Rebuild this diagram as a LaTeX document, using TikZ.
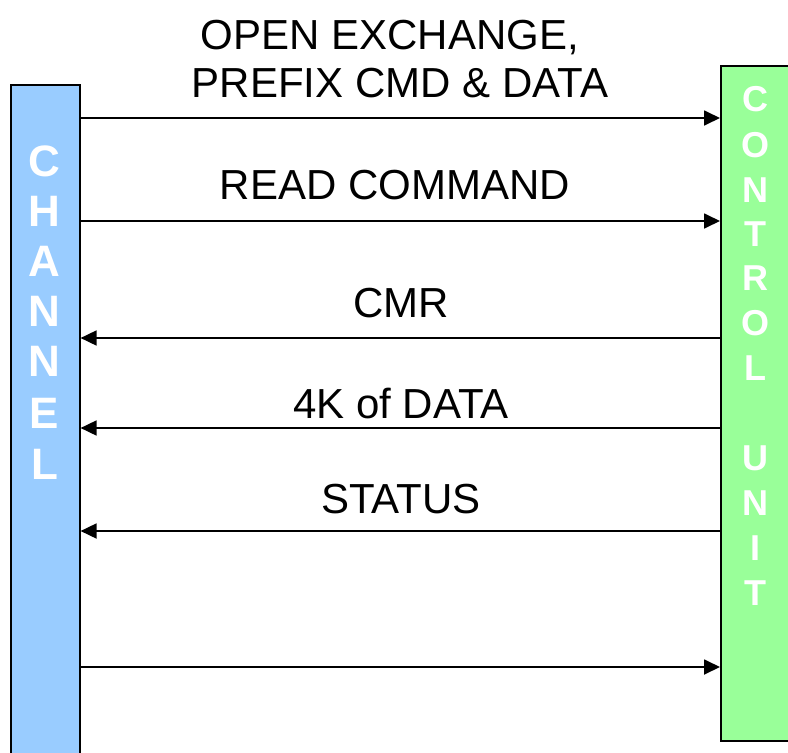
\documentclass[tikz,border=0pt]{standalone}
\usepackage{fontspec}
\setmainfont{Liberation Sans}
\usetikzlibrary{arrows.meta}
\definecolor{chblue}{HTML}{99CCFF}
\definecolor{cugreen}{HTML}{99FF99}
\begin{document}
\begin{tikzpicture}[x=1pt,y=-1pt,
  lbl/.style={anchor=base,inner sep=0pt,font=\fontsize{42}{48}\selectfont},
  arr/.style={line width=1.8pt,-{Triangle[length=16pt,width=15pt]}},
  barL/.style={draw=black,line width=1.6pt,fill=chblue},
  barR/.style={draw=black,line width=1.6pt,fill=cugreen},
  lchar/.style={anchor=base,inner sep=0pt,text=white,font=\fontsize{44}{44}\selectfont\bfseries},
  rchar/.style={anchor=base,inner sep=0pt,text=white,font=\fontsize{36}{36}\selectfont\bfseries}]
\useasboundingbox (0,0) rectangle (788,753);
\clip (0,0) rectangle (788,753);
\fill[white] (0,0) rectangle (788,753);
% bars
\node[barL,minimum width=69pt,minimum height=690pt,inner sep=0pt,anchor=north west] (ch) at (10,84) {};
\node[barR,minimum width=72pt,minimum height=675pt,inner sep=0pt,anchor=north west] (cu) at (720,65) {};
% CHANNEL letters
\foreach \c/\y [count=\i] in {C/160,H/210,A/260,N/310,N/360,E/412,L/463}
  \node[lchar] (chl\i) at (44.5,\y+16) {\c};
% CONTROL UNIT letters
\foreach \c/\y [count=\i] in {C/98.5,O/144,N/189,T/233,R/277.5,O/322,L/367,U/457,N/502,I/547,T/592}
  \node[rchar] (cul\i) at (755,\y+13) {\c};
% labels
\node[lbl] (t1a) at (390,49) {OPEN EXCHANGE,};
\node[lbl] (t1b) at (400,97) {PREFIX CMD \& DATA};
\node[lbl] (t2) at (395,199) {READ COMMAND};
\node[lbl] (t3) at (401,317) {CMR};
\node[lbl] (t4) at (401,418) {4K of DATA};
\node[lbl] (t5) at (401,513) {STATUS};
% arrows
\draw[arr] (ch.east |- 0,118) -- (cu.west |- 0,118);
\draw[arr] (ch.east |- 0,221) -- (cu.west |- 0,221);
\draw[arr] (cu.west |- 0,338) -- (ch.east |- 0,338);
\draw[arr] (cu.west |- 0,428) -- (ch.east |- 0,428);
\draw[arr] (cu.west |- 0,531) -- (ch.east |- 0,531);
\draw[arr] (ch.east |- 0,667) -- (cu.west |- 0,667);
\end{tikzpicture}
\end{document}
